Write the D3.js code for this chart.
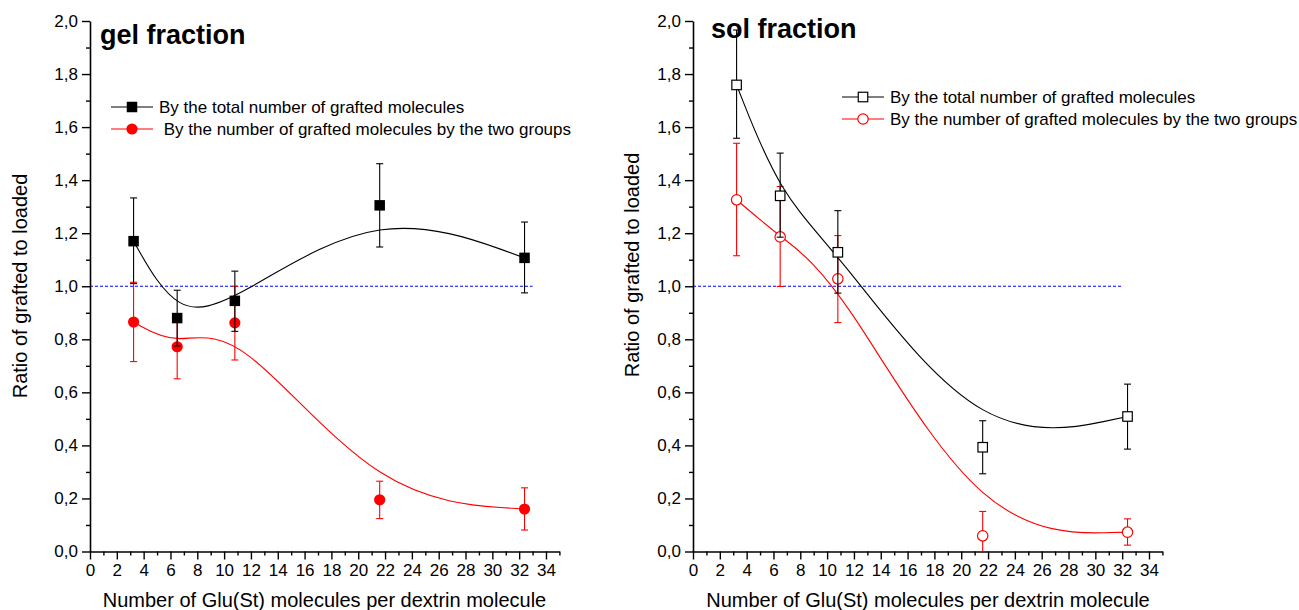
<!DOCTYPE html>
<html>
<head>
<meta charset="utf-8">
<script src="https://cdn.jsdelivr.net/npm/d3@7"></script>
<style>
  html, body { margin: 0; padding: 0; background: #fff; }
  svg text { font-family: "Liberation Sans", Arial, sans-serif; fill: #000; }
</style>
</head>
<body>
<svg id="chart" width="1299" height="610"></svg>
<script>
// ---------- data ----------
const gluPerDextrin = [3.25, 6.5, 10.8, 21.6, 32.4];

const gelTotal    = [1.17, 0.88, 0.945, 1.305, 1.107];
const gelTotalLo  = [1.01, 0.775, 0.83, 1.148, 0.975];
const gelTotalHi  = [1.333, 0.985, 1.057, 1.462, 1.242];
const gelGroups   = [0.865, 0.772, 0.862, 0.195, 0.16];
const gelGroupsLo = [0.716, 0.651, 0.722, 0.124, 0.081];
const gelGroupsHi = [1.015, 0.89, 1.0, 0.265, 0.24];

const solTotal    = [1.759, 1.341, 1.128, 0.393, 0.509];
const solTotalLo  = [1.558, 1.185, 0.974, 0.293, 0.386];
const solTotalHi  = [1.966, 1.502, 1.285, 0.493, 0.631];
const solGroups   = [1.326, 1.186, 1.028, 0.059, 0.073];
const solGroupsLo = [1.115, 0.999, 0.863, -0.03, 0.024];
const solGroupsHi = [1.539, 1.376, 1.191, 0.151, 0.123];

const xMajorTicks = [0, 2, 4, 6, 8, 10, 12, 14, 16, 18, 20, 22, 24, 26, 28, 30, 32, 34];
const xMinorTicks = [1, 3, 5, 7, 9, 11, 13, 15, 17, 19, 21, 23, 25, 27, 29, 31, 33, 35];
const yMajorTicks = [0, 0.2, 0.4, 0.6, 0.8, 1.0, 1.2, 1.4, 1.6, 1.8, 2.0];
const yMinorTicks = [0.1, 0.3, 0.5, 0.7, 0.9, 1.1, 1.3, 1.5, 1.7, 1.9];

const panelTitles = ["gel fraction", "sol fraction"];
const gelLegendLabels = ["By the total number of grafted molecules", " By the number of grafted molecules by the two groups"];
const solLegendLabels = ["By the total number of grafted molecules", "By the number of grafted molecules by the two groups"];
const xAxisTitle = "Number of Glu(St) molecules per dextrin molecule";
const yAxisTitle = "Ratio of grafted to loaded";
const referenceLevel = 1.0;
const gelRefEnd = 33;
const solRefEnd = 32;

// ---------- drawing ----------
const svg = d3.select("#chart");
const fmt = v => d3.format(".1f")(v).replace(".", ",");

function drawPanel(cfg) {
  const g = svg.append("g");
  const x = d3.scaleLinear().domain([0, 35]).range([cfg.left, cfg.left + 469.4]);
  const y = d3.scaleLinear().domain([0, 2]).range([551.5, 21]).clamp(true);

  // reference line
  g.append("line")
    .attr("x1", x(0)).attr("x2", x(cfg.refEnd))
    .attr("y1", y(referenceLevel)).attr("y2", y(referenceLevel))
    .attr("stroke", "#0000ff").attr("stroke-width", 1.1)
    .attr("stroke-dasharray", "3,2");

  // axes
  const xAxis = d3.axisBottom(x).tickValues(xMajorTicks).tickSize(8).tickSizeOuter(0).tickPadding(4)
    .tickFormat(d3.format("d"));
  const gx = g.append("g").attr("transform", `translate(0,${y(0)})`).call(xAxis)
    .attr("font-size", null).attr("font-family", null);
  gx.select(".domain").attr("stroke-width", 1.6);
  gx.selectAll(".tick line").attr("stroke-width", 1.4);
  gx.selectAll("text").style("font-size", "17px");
  const xMinor = d3.axisBottom(x).tickValues(xMinorTicks).tickSize(4).tickFormat("");
  const gxm = g.append("g").attr("transform", `translate(0,${y(0)})`).call(xMinor);
  gxm.select(".domain").remove();
  gxm.selectAll(".tick line").attr("stroke-width", 1.4);

  const yAxis = d3.axisLeft(y).tickValues(yMajorTicks).tickSize(8).tickSizeOuter(0).tickPadding(4)
    .tickFormat(fmt);
  const gy = g.append("g").attr("transform", `translate(${x(0)},0)`).call(yAxis)
    .attr("font-size", null).attr("font-family", null);
  gy.select(".domain").attr("stroke-width", 1.6);
  gy.selectAll(".tick line").attr("stroke-width", 1.4);
  gy.selectAll("text").style("font-size", "17px");
  const yMinor = d3.axisLeft(y).tickValues(yMinorTicks).tickSize(4).tickFormat("");
  const gym = g.append("g").attr("transform", `translate(${x(0)},0)`).call(yMinor);
  gym.select(".domain").remove();
  gym.selectAll(".tick line").attr("stroke-width", 1.4);

  // axis titles
  g.append("text").attr("x", cfg.xTitleX).attr("y", 607)
    .attr("text-anchor", "middle").style("font-size", "20px").text(xAxisTitle);
  g.append("text")
    .attr("transform", `translate(${cfg.yTitleX},${cfg.yTitleY}) rotate(-90)`)
    .attr("text-anchor", "middle").style("font-size", "20px").text(yAxisTitle);

  const line = d3.line().x(d => x(d[0])).y(d => y(d[1])).curve(d3.curveBasis);

  function series(vals, lo, hi, color, shape, filled) {
    const pts = gluPerDextrin.map((v, i) => [v, vals[i], lo[i], hi[i]]);
    g.append("path").attr("d", line(pts)).attr("fill", "none")
      .attr("stroke", color).attr("stroke-width", 1.1);
    const eb = g.append("g").attr("stroke", color).attr("stroke-width", 1.1);
    pts.forEach(p => {
      eb.append("line").attr("x1", x(p[0])).attr("x2", x(p[0])).attr("y1", y(p[2])).attr("y2", y(p[3]));
      if (p[2] >= 0) eb.append("line").attr("x1", x(p[0]) - 3.5).attr("x2", x(p[0]) + 3.5).attr("y1", y(p[2])).attr("y2", y(p[2]));
      eb.append("line").attr("x1", x(p[0]) - 3.5).attr("x2", x(p[0]) + 3.5).attr("y1", y(p[3])).attr("y2", y(p[3]));
    });
    pts.forEach(p => {
      if (shape === "square") {
        const s = filled ? 10.5 : 9.5;
        g.append("rect").attr("x", x(p[0]) - s / 2).attr("y", y(p[1]) - s / 2)
          .attr("width", s).attr("height", s)
          .attr("fill", filled ? color : "#fff").attr("stroke", color).attr("stroke-width", filled ? 0 : 1.2);
      } else {
        g.append("circle").attr("cx", x(p[0])).attr("cy", y(p[1])).attr("r", filled ? 5.6 : 5.2)
          .attr("fill", filled ? color : "#fff").attr("stroke", color).attr("stroke-width", filled ? 0 : 1.2);
      }
    });
  }
  series(cfg.groups, cfg.groupsLo, cfg.groupsHi, "#ff0000", "circle", cfg.filled);
  series(cfg.total, cfg.totalLo, cfg.totalHi, "#000000", "square", cfg.filled);

  // title
  g.append("text").attr("x", cfg.titleX).attr("y", cfg.titleY)
    .style("font-size", "27px").style("font-weight", "bold").text(cfg.title);

  // legend
  const lg = g.append("g");
  const items = [
    { color: "#000000", shape: "square", label: cfg.labels[0] },
    { color: "#ff0000", shape: "circle", label: cfg.labels[1] }
  ];
  items.forEach((it, i) => {
    const ly = cfg.legendY + i * 22;
    lg.append("line").attr("x1", cfg.legendX).attr("x2", cfg.legendX + 42)
      .attr("y1", ly).attr("y2", ly).attr("stroke", it.color).attr("stroke-width", 1.1);
    const cx = cfg.legendX + 21;
    if (it.shape === "square") {
      const s = cfg.filled ? 10.5 : 9.5;
      lg.append("rect").attr("x", cx - s / 2).attr("y", ly - s / 2).attr("width", s).attr("height", s)
        .attr("fill", cfg.filled ? it.color : "#fff").attr("stroke", it.color).attr("stroke-width", cfg.filled ? 0 : 1.2);
    } else {
      lg.append("circle").attr("cx", cx).attr("cy", ly).attr("r", cfg.filled ? 5.6 : 5.2)
        .attr("fill", cfg.filled ? it.color : "#fff").attr("stroke", it.color).attr("stroke-width", cfg.filled ? 0 : 1.2);
    }
    lg.append("text").attr("x", cfg.legendX + 48).attr("y", ly + 6)
      .style("font-size", "17px").style("white-space", "pre").attr("xml:space", "preserve").text(it.label);
  });
}

drawPanel({
  left: 90, refEnd: gelRefEnd, filled: true, labels: gelLegendLabels,
  total: gelTotal, totalLo: gelTotalLo, totalHi: gelTotalHi,
  groups: gelGroups, groupsLo: gelGroupsLo, groupsHi: gelGroupsHi,
  title: panelTitles[0], titleX: 100, titleY: 44,
  legendX: 111, legendY: 107,
  xTitleX: 324.5, yTitleX: 27, yTitleY: 286
});
drawPanel({
  left: 693, refEnd: solRefEnd, filled: false, labels: solLegendLabels,
  total: solTotal, totalLo: solTotalLo, totalHi: solTotalHi,
  groups: solGroups, groupsLo: solGroupsLo, groupsHi: solGroupsHi,
  title: panelTitles[1], titleX: 711, titleY: 38,
  legendX: 842, legendY: 97,
  xTitleX: 928, yTitleX: 639, yTitleY: 265
});
</script>
</body>
</html>
